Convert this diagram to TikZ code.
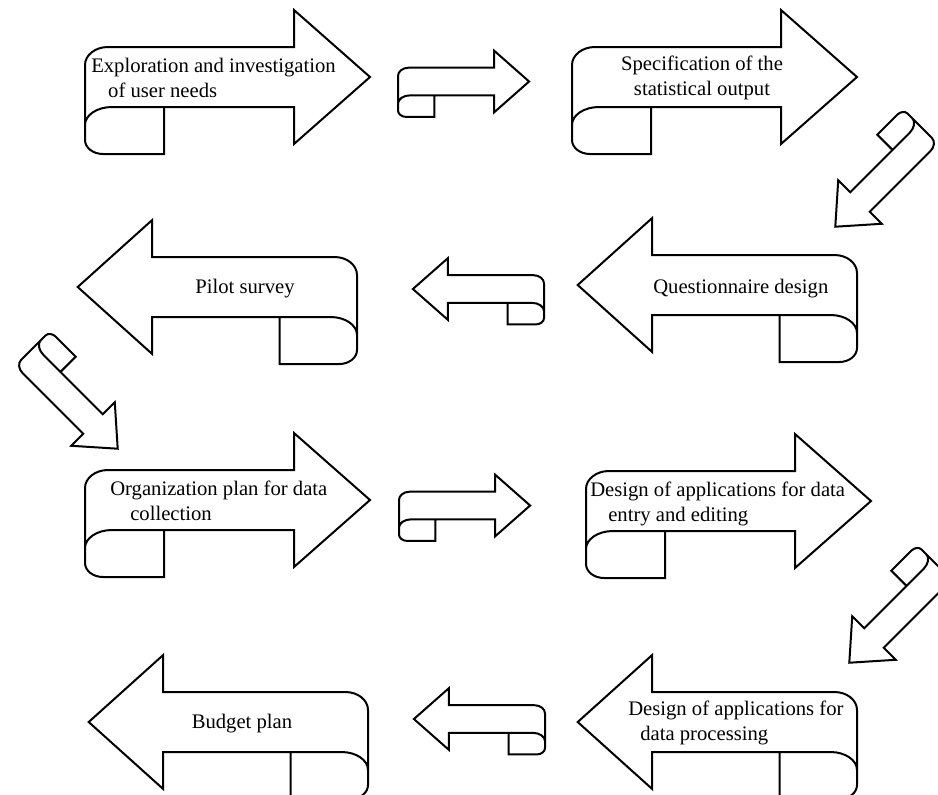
\documentclass[tikz,border=0pt]{standalone}
\usepackage{fontspec}
\setmainfont{Liberation Serif}
\begin{document}
\begin{tikzpicture}[
  x=0.75pt, y=0.75pt,
  every node/.style={font=\fontsize{15.5}{18.75}\selectfont, inner sep=0pt},
  boxtext/.style={anchor=base west, align=left},
  scrollarrow/.pic={
    \draw[line width=1.5pt] (79,-30) -- (79,-77) -- (18,-77)
      arc[start angle=270, end angle=180, x radius=18, y radius=14]
      -- (0,12) arc[start angle=180, end angle=90, x radius=23, y radius=18]
      -- (209,30) -- (209,67) -- (285,0) -- (209,-67) -- (209,-30) -- (27,-30)
      arc[start angle=90, end angle=180, x radius=27, y radius=18];
  }
]
\useasboundingbox (0,0) rectangle (938,-794);
\clip (0,0) rectangle (938,-794);

% big arrows, left to right / right to left
\pic at (85,-77) {scrollarrow};
\pic at (572,-77) {scrollarrow};
\pic[xscale=-0.98] at (857,-285) {scrollarrow};
\pic[xscale=-0.98] at (357,-287) {scrollarrow};
\pic at (85,-500) {scrollarrow};
\pic at (586,-501) {scrollarrow};
\pic[xscale=-0.98] at (857,-722) {scrollarrow};
\pic[xscale=-0.98] at (368,-722) {scrollarrow};

% small arrows between the steps
\foreach \x/\y in {398/81.5, 399/505.5}
  \pic[scale=0.46] at (\x,-\y) {scrollarrow};
\foreach \x/\y in {544/289, 545/719}
  \pic[xscale=-0.46, yscale=0.46] at (\x,-\y) {scrollarrow};
\foreach \x/\y in {928/134, 942/570}
  \pic[rotate=225, scale=0.46] at (\x,-\y) {scrollarrow};
\pic[rotate=135, xscale=-0.46, yscale=0.46] at (25,-356) {scrollarrow};

% texts (base = last line)
\node[boxtext] (explore) at (91,-97) {Exploration and investigation\\\hspace*{12.7pt}of user needs};
\node[anchor=base, align=center] (spec) at (702,-95) {Specification of the\\statistical output};
\node[boxtext] (quest) at (653,-293) {Questionnaire design};
\node[anchor=base] (pilot) at (245,-293) {Pilot survey};
\node[boxtext] (orgplan) at (110,-520) {Organization plan for data\\\hspace*{15pt}collection};
\node[boxtext] (entry) at (590,-521) {Design of applications for data\\\hspace*{13.5pt}entry and editing};
\node[boxtext] (process) at (628,-740) {Design of applications for\\\hspace*{9pt}data processing};
\node[anchor=base] (budget) at (242,-728) {Budget plan};
\end{tikzpicture}
\end{document}
